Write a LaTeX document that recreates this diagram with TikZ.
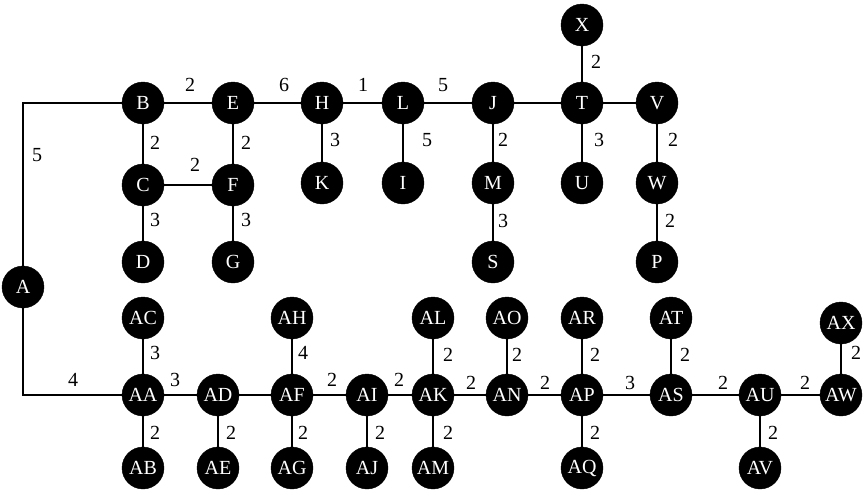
\documentclass[tikz,border=0pt]{standalone}
\usepackage{fontspec}
\setmainfont{Liberation Serif}
\begin{document}
\begin{tikzpicture}[x=1pt,y=-1pt,
  vtx/.style={circle,fill=black,draw=black,minimum size=42pt,inner sep=0pt,text=white,font=\fontsize{20}{20}\selectfont},
  edge/.style={line width=2pt},
  lab/.style={font=\fontsize{20}{20}\selectfont,inner sep=0pt}]
\useasboundingbox (0,0) rectangle (867,496);
% nodes
\node[vtx] (A) at (23,287) {A};
\node[vtx] (B) at (143,103) {B};
\node[vtx] (E) at (233,103) {E};
\node[vtx] (H) at (322,103) {H};
\node[vtx] (L) at (403,103) {L};
\node[vtx] (J) at (493,103) {J};
\node[vtx] (T) at (582,103) {T};
\node[vtx] (V) at (657,103) {V};
\node[vtx] (X) at (582,25) {X};
\node[vtx] (C) at (143,185) {C};
\node[vtx] (F) at (233,185) {F};
\node[vtx] (K) at (322,183) {K};
\node[vtx] (I) at (403,183) {I};
\node[vtx] (M) at (493,183) {M};
\node[vtx] (U) at (582,183) {U};
\node[vtx] (W) at (657,183) {W};
\node[vtx] (D) at (143,262) {D};
\node[vtx] (G) at (233,262) {G};
\node[vtx] (S) at (493,262) {S};
\node[vtx] (P) at (657,262) {P};
\node[vtx] (AC) at (143,318) {AC};
\node[vtx] (AH) at (292,318) {AH};
\node[vtx] (AL) at (433,318) {AL};
\node[vtx] (AO) at (507,318) {AO};
\node[vtx] (AR) at (582,318) {AR};
\node[vtx] (AT) at (671,318) {AT};
\node[vtx] (AX) at (841,323) {AX};
\node[vtx] (AA) at (143,395) {AA};
\node[vtx] (AD) at (218,395) {AD};
\node[vtx] (AF) at (292,395) {AF};
\node[vtx] (AI) at (367,395) {AI};
\node[vtx] (AK) at (433,395) {AK};
\node[vtx] (AN) at (507,395) {AN};
\node[vtx] (AP) at (582,395) {AP};
\node[vtx] (AS) at (671,395) {AS};
\node[vtx] (AU) at (760,395) {AU};
\node[vtx] (AW) at (841,395) {AW};
\node[vtx] (AB) at (143,468) {AB};
\node[vtx] (AE) at (218,468) {AE};
\node[vtx] (AG) at (292,468) {AG};
\node[vtx] (AJ) at (367,468) {AJ};
\node[vtx] (AM) at (433,468) {AM};
\node[vtx] (AQ) at (582,468) {AQ};
\node[vtx] (AV) at (760,468) {AV};
% edges
\draw[edge] (A) |- (B);
\draw[edge] (A) |- (AA);
\draw[edge] (B) -- (E); \draw[edge] (E) -- (H); \draw[edge] (H) -- (L);
\draw[edge] (L) -- (J); \draw[edge] (J) -- (T); \draw[edge] (T) -- (V);
\draw[edge] (T) -- (X);
\draw[edge] (B) -- (C); \draw[edge] (E) -- (F); \draw[edge] (C) -- (F);
\draw[edge] (C) -- (D); \draw[edge] (F) -- (G);
\draw[edge] (H) -- (K); \draw[edge] (L) -- (I); \draw[edge] (J) -- (M);
\draw[edge] (T) -- (U); \draw[edge] (V) -- (W);
\draw[edge] (M) -- (S); \draw[edge] (W) -- (P);
\draw[edge] (AA) -- (AD); \draw[edge] (AD) -- (AF); \draw[edge] (AF) -- (AI);
\draw[edge] (AI) -- (AK); \draw[edge] (AK) -- (AN); \draw[edge] (AN) -- (AP);
\draw[edge] (AP) -- (AS); \draw[edge] (AS) -- (AU); \draw[edge] (AU) -- (AW);
\draw[edge] (AA) -- (AC); \draw[edge] (AF) -- (AH); \draw[edge] (AK) -- (AL);
\draw[edge] (AN) -- (AO); \draw[edge] (AP) -- (AR); \draw[edge] (AS) -- (AT);
\draw[edge] (AW) -- (AX);
\draw[edge] (AA) -- (AB); \draw[edge] (AD) -- (AE); \draw[edge] (AF) -- (AG);
\draw[edge] (AI) -- (AJ); \draw[edge] (AK) -- (AM); \draw[edge] (AP) -- (AQ);
\draw[edge] (AU) -- (AV);
% labels
\node[lab] (l1) at (37,155) {5};
\node[lab] (l2) at (73,380) {4};
\node[lab] (l3) at (190,85) {2};
\node[lab] (l4) at (284,85) {6};
\node[lab] (l5) at (363,85) {1};
\node[lab] (l6) at (443,85) {5};
\node[lab] (l7) at (155,143) {2};
\node[lab] (l8) at (246,143) {2};
\node[lab] (l9) at (195,165) {2};
\node[lab] (l10) at (155,220) {3};
\node[lab] (l11) at (246,220) {3};
\node[lab] (l12) at (335,140) {3};
\node[lab] (l13) at (427,140) {5};
\node[lab] (l14) at (503,140) {2};
\node[lab] (l15) at (599,140) {3};
\node[lab] (l16) at (673,140) {2};
\node[lab] (l17) at (596,62) {2};
\node[lab] (l18) at (503,221) {3};
\node[lab] (l19) at (670,221) {2};
\node[lab] (l20) at (155,353) {3};
\node[lab] (l21) at (175,380) {3};
\node[lab] (l22) at (303,353) {4};
\node[lab] (l23) at (332,380) {2};
\node[lab] (l24) at (399,380) {2};
\node[lab] (l25) at (155,433) {2};
\node[lab] (l26) at (231,433) {2};
\node[lab] (l27) at (303,433) {2};
\node[lab] (l28) at (380,433) {2};
\node[lab] (l29) at (448,355) {2};
\node[lab] (l30) at (517,355) {2};
\node[lab] (l31) at (595,355) {2};
\node[lab] (l32) at (685,355) {2};
\node[lab] (l33) at (856,353) {2};
\node[lab] (l34) at (471,383) {2};
\node[lab] (l35) at (545,383) {2};
\node[lab] (l36) at (630,383) {3};
\node[lab] (l37) at (723,383) {2};
\node[lab] (l38) at (805,383) {2};
\node[lab] (l39) at (448,433) {2};
\node[lab] (l40) at (595,433) {2};
\node[lab] (l41) at (773,433) {2};
\end{tikzpicture}
\end{document}
